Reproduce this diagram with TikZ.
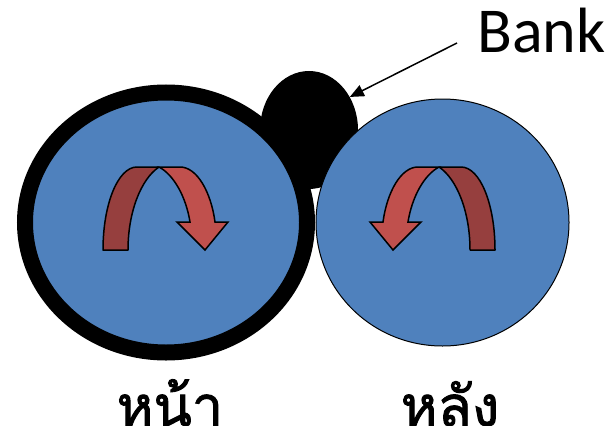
\documentclass[tikz,border=0pt]{standalone}
\usepackage{fontspec}
\setmainfont{Carlito}
\newfontfamily\thaifont[Script=Thai, FakeBold=1.6]{Loma}
\usetikzlibrary{shapes.geometric, arrows.meta, positioning}

\definecolor{wheelblue}{HTML}{4F81BD}
\definecolor{turnred}{HTML}{C0504D}
\definecolor{turndark}{HTML}{963F3E}

\tikzset{
  wheel/.style={ellipse, draw=black, fill=wheelblue, inner sep=0pt},
  backband/.style={fill=turndark, draw=black, line width=1.5pt, line join=round},
  frontband/.style={fill=turnred, draw=black, line width=1.5pt, line join=miter},
  wheellabel/.style={font=\thaifont\fontsize{56}{58}\selectfont, anchor=base, inner sep=0pt},
}

\begin{document}
\begin{tikzpicture}[x=1pt, y=-1pt]
        \useasboundingbox (0,0) rectangle (609,425);

        % Bank
        \node[ellipse, fill=black, inner sep=0pt, minimum width=98pt, minimum height=118pt] (bank) at (309,130) {};

        % Wheels
        \node[wheel, line width=16pt, minimum width=282pt, minimum height=260pt] (front) at (166,222.5) {};
        \node[wheel, line width=1pt, minimum width=253pt, minimum height=247pt] (rear) at (442.5,222.5) {};

        % Turn arrows
        \foreach \cx/\s in {159/1, 439/-1} {
          \begin{scope}[shift={(\cx,167)}, xscale=\s]
            \draw[backband] (-56,83) .. controls (-56,37) and (-41,0) .. (-22,0) -- (0,0)
              .. controls (-18,12) and (-31,45) .. (-31,83) -- cycle;
            \draw[frontband] (0,0) -- (21,0) .. controls (38,0) and (52,25) .. (56,55)
              -- (69,55) -- (46,83) -- (18,55) -- (31,55)
              .. controls (27,30) and (15,8) .. (0,0) -- cycle;
          \end{scope}
        }

        % Label
        \node[font=\fontsize{64}{64}\selectfont, anchor=base west, inner sep=0pt] (banklabel) at (477,53) {Bank};
        \coordinate (tail) at ([xshift=-20pt, yshift=10pt]banklabel.base west);
        \draw[-{Triangle[length=14pt, width=12pt]}, line width=1.5pt] (tail) -- (bank.39);

        \node[wheellabel] (frontlabel) at (170,426) {หน้า};
        \node[wheellabel] (rearlabel) at (450,426) {หลัง};
      \end{tikzpicture}
\end{document}
